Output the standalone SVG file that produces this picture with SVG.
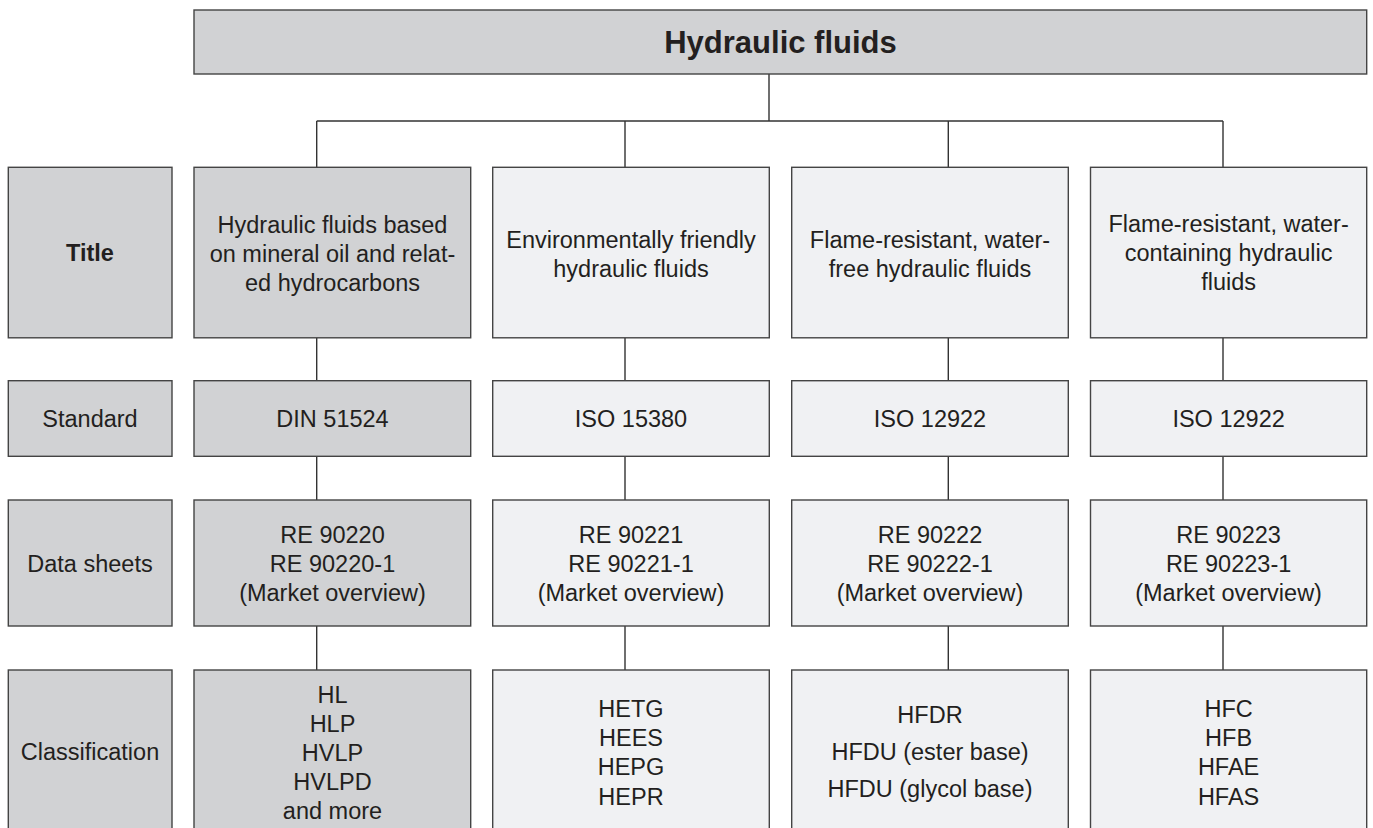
<svg xmlns="http://www.w3.org/2000/svg" width="1373" height="828" viewBox="0 0 1373 828">
<style>
.bx{stroke:#444;stroke-width:1.4}
.dk{fill:#d1d2d4}
.lt{fill:#f0f1f3}
.t{font-family:"Liberation Sans",Arial,sans-serif;font-size:23.5px;fill:#231f20;text-anchor:middle}
.b{font-weight:bold}
.c{stroke:#333;stroke-width:1.4;fill:none}
</style>
<rect width="1373" height="828" fill="#fff"/>
<g id="connectors">
<path class="c" d="M769 74V121M316.7 121H1223M316.7 121V167M625 121V167M948.3 121V167M1223 121V167"/>
<path class="c" d="M316.7 338V380.7M625 338V380.7M948.3 338V380.7M1223 338V380.7"/>
<path class="c" d="M316.7 456.3V500M625 456.3V500M948.3 456.3V500M1223 456.3V500"/>
<path class="c" d="M316.7 626V670M625 626V670M948.3 626V670M1223 626V670"/>
</g>
<g id="root">
<rect class="bx dk" x="194" y="10" width="1172.7" height="64"/>
<text class="t b" x="780.5" y="53" style="font-size:31px">Hydraulic fluids</text>
</g>
<g id="label-title">
<rect class="bx dk" x="8.3" y="167.3" width="163.7" height="170.5"/>
<text class="t b" x="90" y="261">Title</text>
</g>
<g id="label-standard">
<rect class="bx dk" x="8.3" y="380.7" width="163.7" height="75.6"/>
<text class="t" x="90" y="426.7">Standard</text>
</g>
<g id="label-datasheets">
<rect class="bx dk" x="8.3" y="500" width="163.7" height="126"/>
<text class="t" x="90" y="571.5">Data sheets</text>
</g>
<g id="label-classification">
<rect class="bx dk" x="8.3" y="670" width="163.7" height="170"/>
<text class="t" x="90" y="760">Classification</text>
</g>
<g id="c1-title">
<rect class="bx dk" x="194" y="167.3" width="276.7" height="170.5"/>
<text class="t" x="332.5" y="232.7">Hydraulic fluids based</text>
<text class="t" x="332.5" y="261.7">on mineral oil and relat-</text>
<text class="t" x="332.5" y="290.5">ed hydrocarbons</text>
</g>
<g id="c1-standard">
<rect class="bx dk" x="194" y="380.7" width="276.7" height="75.6"/>
<text class="t" x="332.5" y="426.7">DIN 51524</text>
</g>
<g id="c1-datasheets">
<rect class="bx dk" x="194" y="500" width="276.7" height="126"/>
<text class="t" x="332.5" y="542.7">RE 90220</text>
<text class="t" x="332.5" y="571.7">RE 90220-1</text>
<text class="t" x="332.5" y="600.7">(Market overview)</text>
</g>
<g id="c1-class">
<rect class="bx dk" x="194" y="670" width="276.7" height="170"/>
<text class="t" x="332.5" y="702.7">HL</text>
<text class="t" x="332.5" y="731.7">HLP</text>
<text class="t" x="332.5" y="760.7">HVLP</text>
<text class="t" x="332.5" y="789.7">HVLPD</text>
<text class="t" x="332.5" y="818.7">and more</text>
</g>
<g id="c2-title">
<rect class="bx lt" x="492.7" y="167.3" width="276.6" height="170.5"/>
<text class="t" x="631" y="248">Environmentally friendly</text>
<text class="t" x="631" y="277">hydraulic fluids</text>
</g>
<g id="c2-standard">
<rect class="bx lt" x="492.7" y="380.7" width="276.6" height="75.6"/>
<text class="t" x="631" y="426.7">ISO 15380</text>
</g>
<g id="c2-datasheets">
<rect class="bx lt" x="492.7" y="500" width="276.6" height="126"/>
<text class="t" x="631" y="542.7">RE 90221</text>
<text class="t" x="631" y="571.7">RE 90221-1</text>
<text class="t" x="631" y="600.7">(Market overview)</text>
</g>
<g id="c2-class">
<rect class="bx lt" x="492.7" y="670" width="276.6" height="170"/>
<text class="t" x="631" y="716.7">HETG</text>
<text class="t" x="631" y="746">HEES</text>
<text class="t" x="631" y="775.3">HEPG</text>
<text class="t" x="631" y="804.7">HEPR</text>
</g>
<g id="c3-title">
<rect class="bx lt" x="791.7" y="167.3" width="276.6" height="170.5"/>
<text class="t" x="930" y="248">Flame-resistant, water-</text>
<text class="t" x="930" y="277">free hydraulic fluids</text>
</g>
<g id="c3-standard">
<rect class="bx lt" x="791.7" y="380.7" width="276.6" height="75.6"/>
<text class="t" x="930" y="426.7">ISO 12922</text>
</g>
<g id="c3-datasheets">
<rect class="bx lt" x="791.7" y="500" width="276.6" height="126"/>
<text class="t" x="930" y="542.7">RE 90222</text>
<text class="t" x="930" y="571.7">RE 90222-1</text>
<text class="t" x="930" y="600.7">(Market overview)</text>
</g>
<g id="c3-class">
<rect class="bx lt" x="791.7" y="670" width="276.6" height="170"/>
<text class="t" x="930" y="723.3">HFDR</text>
<text class="t" x="930" y="760">HFDU (ester base)</text>
<text class="t" x="930" y="796.7">HFDU (glycol base)</text>
</g>
<g id="c4-title">
<rect class="bx lt" x="1090.5" y="167.3" width="276.2" height="170.5"/>
<text class="t" x="1228.6" y="231.7">Flame-resistant, water-</text>
<text class="t" x="1228.6" y="260.7">containing hydraulic</text>
<text class="t" x="1228.6" y="290">fluids</text>
</g>
<g id="c4-standard">
<rect class="bx lt" x="1090.5" y="380.7" width="276.2" height="75.6"/>
<text class="t" x="1228.6" y="426.7">ISO 12922</text>
</g>
<g id="c4-datasheets">
<rect class="bx lt" x="1090.5" y="500" width="276.2" height="126"/>
<text class="t" x="1228.6" y="542.7">RE 90223</text>
<text class="t" x="1228.6" y="571.7">RE 90223-1</text>
<text class="t" x="1228.6" y="600.7">(Market overview)</text>
</g>
<g id="c4-class">
<rect class="bx lt" x="1090.5" y="670" width="276.2" height="170"/>
<text class="t" x="1228.6" y="716.7">HFC</text>
<text class="t" x="1228.6" y="746">HFB</text>
<text class="t" x="1228.6" y="775.3">HFAE</text>
<text class="t" x="1228.6" y="804.7">HFAS</text>
</g>
</svg>
